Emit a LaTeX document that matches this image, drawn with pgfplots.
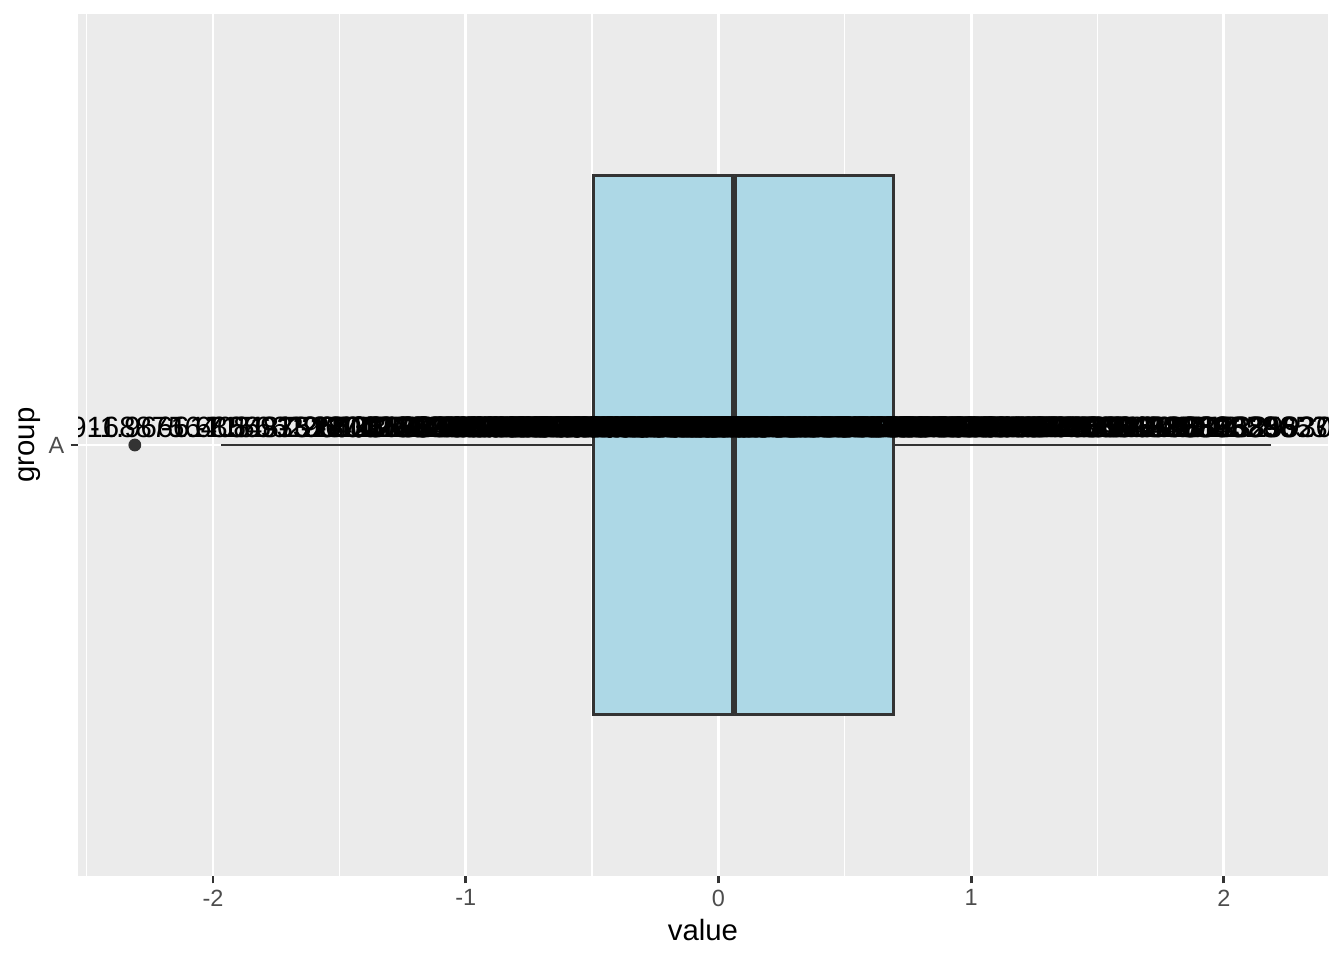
\documentclass[border=0pt]{standalone}
\usepackage{fontspec}
\setmainfont{Liberation Sans}
\usepackage{pgfplots}
\usepackage{pgfplotstable}
\pgfplotsset{compat=1.18}
\usepgfplotslibrary{statistics}

\definecolor{panelbg}{HTML}{EBEBEB}
\definecolor{grey20}{HTML}{333333}
\definecolor{grey30}{HTML}{4D4D4D}
\definecolor{boxfill}{HTML}{ADD8E6}

% value, label height
\pgfplotstableread{
v y
-0.560475646552213 1.011
-0.23017748948328 1.011
1.55870831414912 1.011
0.070508391424576 1.011
0.129287735160946 1.011
1.71506498688328 1.011
0.460916205989202 1.011
-1.26506123460653 1.011
-0.686852851893526 1.011
-0.445661970099958 1.011
1.22408179743946 1.011
0.359813827057364 1.011
0.400771450594052 1.011
0.11068271594512 1.011
-0.555841134754075 1.011
1.78691313680308 1.011
0.497850478229239 1.011
-1.96661715662964 1.011
0.701355901563686 1.011
-0.472791407727934 1.011
-1.06782370598685 1.011
-0.217974914658295 1.011
-1.02600444830724 1.011
-0.72889122929114 1.011
-0.625039267849257 1.011
-1.68669331074241 1.011
0.837787044494525 1.011
0.153373117836515 1.011
-1.13813693701195 1.011
1.25381492106993 1.011
0.426464221476814 1.011
-0.295071482992271 1.011
0.895125661045022 1.011
0.878133487533042 1.011
0.821581081637487 1.011
0.688640254100091 1.011
0.553917653537589 1.011
-0.0619117105767217 1.011
-0.305962663739917 1.011
-0.380471001012383 1.011
-0.694706978920513 1.011
-0.207917278019599 1.011
-1.26539635156826 1.011
2.16895596533851 1.011
1.20796199830499 1.011
-1.12310858320318 1.011
-0.402884835299076 1.011
-0.466655353623219 1.011
0.779965118336318 1.011
-0.0833690664718293 1.011
0.253318513994755 1.011
-0.028546755348703 1.011
-0.042870457291316 1.011
1.36860228401446 1.011
-0.225770985659268 1.011
1.51647060442954 1.011
-1.54875280423022 1.011
0.584613749636069 1.011
0.123854243844614 1.011
0.215941568743973 1.011
0.379639482759882 1.011
-0.502323453109302 1.011
-0.33320738366942 1.011
-1.01857538310709 1.011
-1.07179122647558 1.011
0.303528641404258 1.011
0.448209778629426 1.011
0.0530042267305041 1.011
0.922267467879738 1.011
2.05008468562714 1.011
-0.491031166056535 1.011
-2.30916887564081 1.011
1.00573852446226 1.011
-0.709200762582393 1.011
-0.688008616467358 1.011
1.0255713696967 1.011
-0.284773007051009 1.011
-1.22071771225454 1.011
0.18130347974915 1.011
-0.138891362439045 1.011
0.00576418589988693 1.011
0.38528040112633 1.011
-0.370660031792409 1.011
0.644376548518833 1.011
-0.220486561818751 1.011
0.331781963915697 1.011
1.09683901314935 1.011
0.435181490833803 1.011
-0.325931585531227 1.011
1.14880761845109 1.011
0.993503855962119 1.011
0.54839695950807 1.011
0.238731735111441 1.011
-0.627906076039371 1.011
1.36065244853001 1.011
-0.600259587147127 1.011
2.18733299301658 1.011
1.53261062618519 1.011
-0.235700359100477 1.011
-1.02642090030678 1.011
}\vals

\begin{document}
\begin{tikzpicture}
\useasboundingbox (-29.25pt,-31.5pt) rectangle (474.75pt,328.5pt);
\begin{axis}[
  at={(0,0)}, anchor=south west,
  scale only axis, width=468.75pt, height=323.25pt,
  xmin=-2.534, xmax=2.412, ymin=0.4, ymax=1.6,
  axis background/.style={fill=panelbg},
  axis line style={draw=none},
  xtick={-2,-1,0,1,2}, minor xtick={-2.5,-1.5,-0.5,0.5,1.5},
  xticklabels={-2,-1,0,1,2},
  ytick={1}, yticklabels={A},
  grid=both,
  major grid style={white, line width=1.07pt},
  minor grid style={white, line width=0.53pt},
  xtick pos=bottom, ytick pos=left,
  tick align=outside,
  major tick length=2.75pt, minor tick length=0pt,
  tick style={grey20, line width=1.07pt},
  tick label style={font=\fontsize{8.8}{10}\selectfont, text=grey30},
  xticklabel style={inner sep=0pt, yshift=-2.2pt},
  yticklabel style={inner sep=0pt, xshift=-2.2pt},
  xlabel={value}, ylabel={group},
  label style={font=\fontsize{11}{13}\selectfont, text=black},
  xlabel style={at={(axis description cs:0.5,-0.0626)}, anchor=center},
  ylabel style={at={(axis description cs:-0.0384,0.5)}, anchor=center, rotate=0},
  clip marker paths=true,
]
\addplot[boxplot prepared={lower whisker=-1.96661715662964,
    lower quartile=-0.493854235361234, median=0.0617563061383291,
    upper quartile=0.691819193296142, upper whisker=2.18733299301658,
    draw position=1, box extend=0.75, whisker extend=0},
  boxplot/draw direction=x,
  boxplot/every median/.style={line width=2.13pt},
  draw=grey20, fill=boxfill, line width=1.07pt] coordinates {};
\addplot[only marks, mark=*, mark size=2.2pt, color=grey20]
  coordinates {(-2.30916887564081,1)};
\addplot[only marks, mark=none, nodes near coords,
  point meta=explicit symbolic,
  every node near coord/.append style={anchor=base, inner sep=0pt,
    font=\fontsize{11}{13}\selectfont, text=black}]
  table[x index=0, y index=1, meta index=0] {\vals};
\end{axis}
\end{tikzpicture}
\end{document}
